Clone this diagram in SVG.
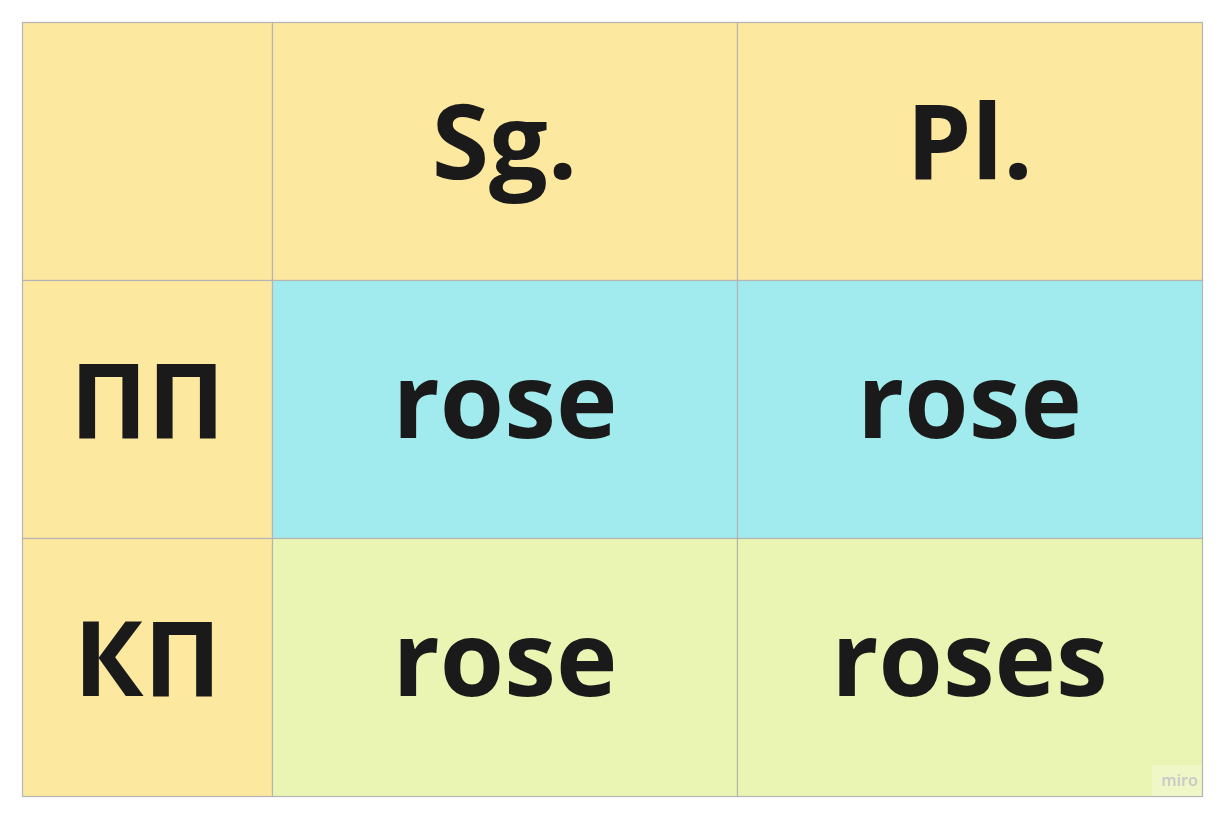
<svg xmlns="http://www.w3.org/2000/svg" width="1227" height="814" viewBox="0 0 1227 814">
<style>
.cell{stroke:#b4b4b4;stroke-width:1.2}
.y{fill:#fde89f}
.c{fill:#a1ebee}
.g{fill:#eaf5b3}
.t{font-family:"Open Sans","DejaVu Sans",sans-serif;font-weight:700;font-size:104px;fill:#1a1a1a;text-anchor:middle}
</style>
<rect width="1227" height="814" fill="#ffffff"/>
<g id="cell-0-0"><rect class="cell y" x="22.5" y="22.5" width="250" height="258"/></g>
<g id="cell-0-1"><rect class="cell y" x="272.5" y="22.5" width="465" height="258"/><text class="t" x="504.5" y="179">Sg.</text></g>
<g id="cell-0-2"><rect class="cell y" x="737.5" y="22.5" width="465" height="258"/><text class="t" x="969.5" y="179">Pl.</text></g>
<g id="cell-1-0"><rect class="cell y" x="22.5" y="280.5" width="250" height="258"/><text class="t" x="147.5" y="438">ПП</text></g>
<g id="cell-1-1"><rect class="cell c" x="272.5" y="280.5" width="465" height="258"/><text class="t" x="505" y="438">rose</text></g>
<g id="cell-1-2"><rect class="cell c" x="737.5" y="280.5" width="465" height="258"/><text class="t" x="969.5" y="438">rose</text></g>
<g id="cell-2-0"><rect class="cell y" x="22.5" y="538.5" width="250" height="258"/><text class="t" x="147.5" y="696">КП</text></g>
<g id="cell-2-1"><rect class="cell g" x="272.5" y="538.5" width="465" height="258"/><text class="t" x="505" y="696">rose</text></g>
<g id="cell-2-2"><rect class="cell g" x="737.5" y="538.5" width="465" height="258"/><text class="t" x="969.5" y="696">roses</text></g>
<g id="connectors"></g>
<g id="watermark">
<rect x="1152" y="765" width="49.5" height="31" fill="#ffffff" fill-opacity="0.25"/>
<text x="1179.5" y="786" font-family="'Open Sans','DejaVu Sans',sans-serif" font-weight="600" font-size="16" fill="#c9c9c9" text-anchor="middle">miro</text>
</g>
</svg>
